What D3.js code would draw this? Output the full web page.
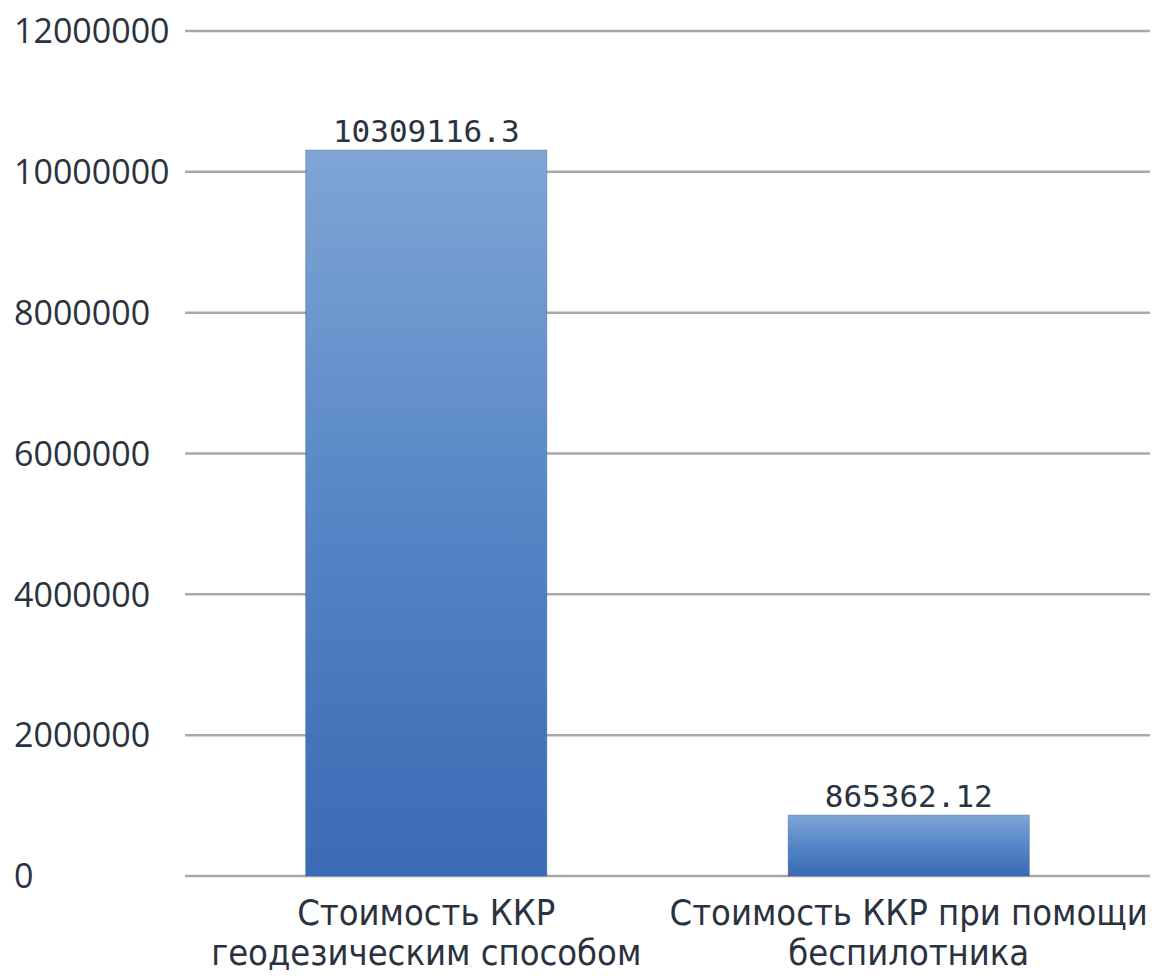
<!DOCTYPE html>
<html>
<head>
<meta charset="utf-8">
<script src="https://cdn.jsdelivr.net/npm/d3@7"></script>
<style>
  html, body { margin: 0; padding: 0; background: #fff; }
  #chart { width: 1157px; height: 976px; }
</style>
</head>
<body>
<div id="chart"></div>
<script>
const categories = [
  ['Стоимость ККР', 'геодезическим способом'],
  ['Стоимость ККР при помощи', 'беспилотника']
];
const values = [10309116.3, 865362.12];
const valueLabels = ['10309116.3', '865362.12'];
const yTicks = [0, 2000000, 4000000, 6000000, 8000000, 10000000, 12000000];

const W = 1157, H = 976;
const M = { t: 31, r: 7, b: 100, l: 185 };
const TEXT = '#2a3240';

const svg = d3.select('#chart').append('svg')
  .attr('width', W)
  .attr('height', H)
  .attr('viewBox', `0 0 ${W} ${H}`)
  .style('display', 'block');

const defs = svg.append('defs');
const grad = defs.append('linearGradient')
  .attr('id', 'barGrad')
  .attr('x1', 0).attr('y1', 0).attr('x2', 0).attr('y2', 1);
grad.append('stop').attr('offset', '0%').attr('stop-color', '#80a5d5');
grad.append('stop').attr('offset', '50%').attr('stop-color', '#5586c6');
grad.append('stop').attr('offset', '100%').attr('stop-color', '#3a6bb4');

const x = d3.scaleBand()
  .domain(d3.range(categories.length))
  .range([M.l, W - M.r])
  .paddingInner(0.5)
  .paddingOuter(0.25);

const y = d3.scaleLinear()
  .domain([0, 12000000])
  .range([H - M.b, M.t]);

// gridlines
svg.append('g')
  .selectAll('line')
  .data(yTicks)
  .enter().append('line')
  .attr('x1', M.l)
  .attr('x2', W - M.r)
  .attr('y1', d => y(d))
  .attr('y2', d => y(d))
  .attr('stroke', '#a9a9a9')
  .attr('stroke-width', 2.5);

// y tick labels
svg.append('g')
  .selectAll('text')
  .data(yTicks)
  .enter().append('text')
  .attr('x', 14)
  .attr('y', d => y(d))
  .attr('dy', '0.36em')
  .attr('fill', TEXT)
  .style('font-family', '"Open Sans", sans-serif')
  .style('font-size', '34px')
  .text(d => d);

// bars
svg.append('g')
  .selectAll('rect')
  .data(values)
  .enter().append('rect')
  .attr('x', (d, i) => x(i))
  .attr('width', x.bandwidth())
  .attr('y', d => y(d))
  .attr('height', d => y(0) - y(d))
  .attr('fill', 'url(#barGrad)')
  .attr('stroke', 'rgba(60,90,140,0.35)')
  .attr('stroke-width', 1);

// value labels
svg.append('g')
  .selectAll('text')
  .data(values)
  .enter().append('text')
  .attr('x', (d, i) => x(i) + x.bandwidth() / 2)
  .attr('y', d => y(d) - 8)
  .attr('text-anchor', 'middle')
  .attr('fill', TEXT)
  .style('font-family', '"DejaVu Sans Mono", monospace')
  .style('font-size', '31px')
  .text((d, i) => valueLabels[i]);

// category labels
const cat = svg.append('g')
  .selectAll('text')
  .data(categories)
  .enter().append('text')
  .attr('x', (d, i) => x(i) + x.bandwidth() / 2)
  .attr('y', y(0) + 49)
  .attr('text-anchor', 'middle')
  .attr('fill', TEXT)
  .style('font-family', '"DejaVu Sans Condensed", "DejaVu Sans", sans-serif')
  .style('font-stretch', 'condensed')
  .style('font-size', '36px');
cat.selectAll('tspan')
  .data(d => d)
  .enter().append('tspan')
  .attr('x', function () { return d3.select(this.parentNode).attr('x'); })
  .attr('dy', (d, i) => i === 0 ? 0 : 40)
  .text(d => d);
</script>
</body>
</html>
